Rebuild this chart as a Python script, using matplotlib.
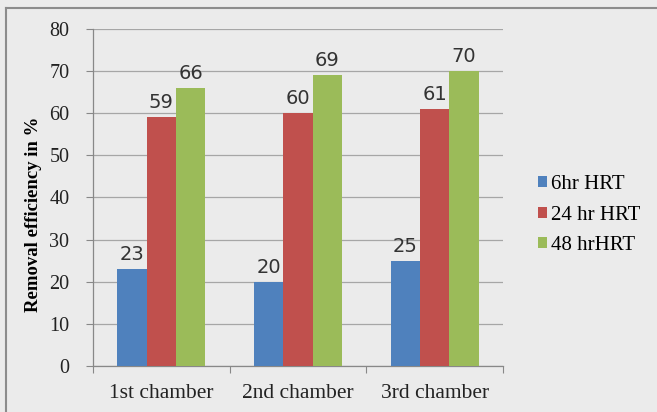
import numpy as np
import matplotlib.pyplot as plt
from matplotlib.lines import Line2D

# Removal efficiency per chamber for each hydraulic retention time
chambers = ['1st chamber', '2nd chamber', '3rd chamber']
hrt_6 = [23, 20, 25]
hrt_24 = [59, 60, 61]
hrt_48 = [66, 69, 70]
series_names = ['6hr HRT', '24 hr HRT', '48 hrHRT']
colors = ['#4F81BD', '#C0504D', '#9BBB59']
y_ticks = [0, 10, 20, 30, 40, 50, 60, 70, 80]

bg = '#ebebeb'
fig = plt.figure(figsize=(6.57, 4.12), dpi=100, facecolor=bg)
ax = fig.add_axes([0.1416, 0.1117, 0.624, 0.818], facecolor=bg)

x = np.arange(len(chambers))
width = 0.215
for i, (vals, name, col) in enumerate(zip([hrt_6, hrt_24, hrt_48], series_names, colors)):
    bars = ax.bar(x + (i - 1) * width, vals, width, color=col, label=name, zorder=3)
    for b, v in zip(bars, vals):
        ax.text(b.get_x() + b.get_width() / 2, v + 1.2, str(v), ha='center', va='bottom',
                fontsize=14, family='DejaVu Sans', color='#333333', zorder=4)

ax.set_xlim(-0.5, 2.5)
ax.set_ylim(0, 80)
ax.set_yticks(y_ticks)
ax.set_yticklabels([str(t) for t in y_ticks], family='Liberation Serif', fontsize=14.5, color='#222222')
ax.yaxis.grid(True, color='#a6a6a6', linewidth=0.9, zorder=0)

# category ticks sit at the group boundaries, labels at group centres
ax.set_xticks([-0.5, 0.5, 1.5, 2.5])
ax.set_xticklabels([])
ax.set_xticks(x, minor=True)
ax.set_xticklabels(chambers, minor=True, family='Liberation Serif', fontsize=15.5, color='#222222')
ax.tick_params(axis='x', which='minor', length=0, pad=13)
ax.tick_params(axis='x', which='major', length=5, color='#888888')
ax.tick_params(axis='y', length=5, color='#888888', pad=12)

for s in ['top', 'right']:
    ax.spines[s].set_visible(False)
for s in ['left', 'bottom']:
    ax.spines[s].set_color('#888888')
    ax.spines[s].set_linewidth(0.9)

ax.set_ylabel('Removal efficiency in %', family='Liberation Serif', fontweight='bold',
              fontsize=13.5, labelpad=4)
ax.yaxis.set_label_coords(-0.125, 0.45)

leg = fig.legend(loc='center left', bbox_to_anchor=(0.79, 0.478), frameon=False,
                 prop={'family': 'Liberation Serif', 'size': 15},
                 handlelength=0.45, handleheight=0.45, handletextpad=0.2, labelspacing=0.55)

# chart frame on the top and left edges
fig.add_artist(Line2D([0.009, 1.0], [0.98, 0.98], transform=fig.transFigure, color='#8c8c8c', linewidth=1.5))
fig.add_artist(Line2D([0.009, 0.009], [0.0, 0.98], transform=fig.transFigure, color='#8c8c8c', linewidth=1.5))

fig.savefig('out.png', dpi=100, facecolor=bg)
